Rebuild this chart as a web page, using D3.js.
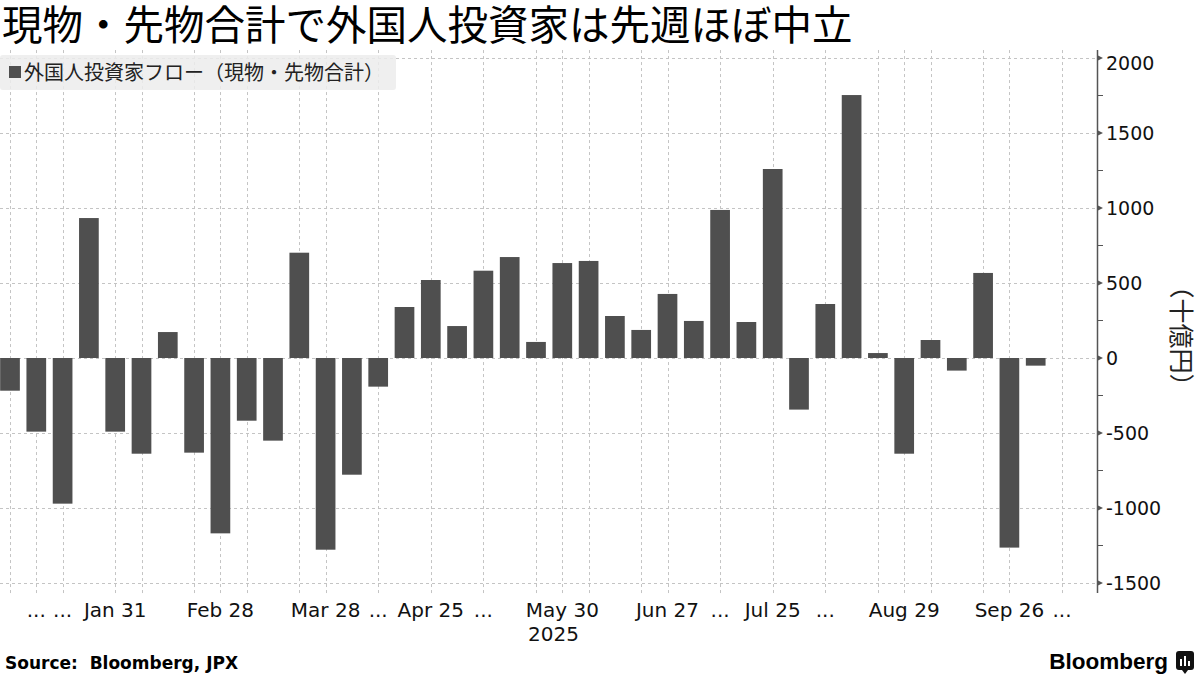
<!DOCTYPE html>
<html><head><meta charset="utf-8">
<script src="https://cdn.jsdelivr.net/npm/d3@7"></script>
<style>body{margin:0;background:#fff} svg{display:block}</style>
</head><body><svg id="c" width="1200" height="675"></svg>
<script>
const title = "現物・先物合計で外国人投資家は先週ほぼ中立";
const legendLabel = "外国人投資家フロー（現物・先物合計）";
const yAxisTitle = "（十億円）";
const sourceText = "Source:  Bloomberg, JPX";
const brandText = "Bloomberg";

const weeks = [
  "2025-01-03","2025-01-10","2025-01-17","2025-01-24","2025-01-31",
  "2025-02-07","2025-02-14","2025-02-21","2025-02-28","2025-03-07",
  "2025-03-14","2025-03-21","2025-03-28","2025-04-04","2025-04-11",
  "2025-04-18","2025-04-25","2025-05-02","2025-05-09","2025-05-16",
  "2025-05-23","2025-05-30","2025-06-06","2025-06-13","2025-06-20",
  "2025-06-27","2025-07-04","2025-07-11","2025-07-18","2025-07-25",
  "2025-08-01","2025-08-08","2025-08-15","2025-08-22","2025-08-29",
  "2025-09-05","2025-09-12","2025-09-19","2025-09-26","2025-10-03"
];
const flows = [
  -218, -491, -971, 933, -491,
  -638, 173, -631, -1169, -418,
  -551, 702, -1278, -778, -191,
  340, 520, 213, 582, 673,
  107, 633, 647, 280, 187,
  427, 247, 987, 240, 1260,
  -344, 360, 1753, 33, -638,
  120, -84, 567, -1264, -51
];

const tickDates = [
  "2025-01-03","2025-01-10","2025-01-17","2025-01-31","2025-02-07",
  "2025-02-21","2025-02-28","2025-03-07","2025-03-21","2025-03-28",
  "2025-04-11","2025-04-25","2025-05-09","2025-05-23","2025-05-30",
  "2025-06-06","2025-06-20","2025-06-27","2025-07-11","2025-07-25",
  "2025-08-08","2025-08-22","2025-08-29","2025-09-05","2025-09-19",
  "2025-09-26","2025-10-10"
];
const tickLabels = [
  "","...","...","Jan 31","",
  "","Feb 28","","","Mar 28",
  "...","Apr 25","...","","May 30",
  "","","Jun 27","...","Jul 25",
  "...","","Aug 29","","",
  "Sep 26","..."
];
const yearLabel = "2025";
const yTicks = [-1500, -1000, -500, 0, 500, 1000, 1500, 2000];
const yMinorTicks = [-1250, -750, -250, 250, 750, 1250, 1750];

const parse = d3.utcParse("%Y-%m-%d");
const svg = d3.select("#c");
svg.append("rect").attr("width",1200).attr("height",675).attr("fill","#fff");

const x = d3.scaleUtc().domain([parse("2025-01-03"), parse("2025-10-10")]).range([10, 1062]);
const y = d3.scaleLinear().domain([-1500, 2000]).range([583, 58]);
const axisX = 1097;
const yTop = y(2053), yBot = y(-1567);
const barW = 19.7;

// title
svg.append("text").attr("x", 2).attr("y", 39.5)
  .attr("font-family", "'DejaVu Sans', 'Noto Sans CJK JP'").attr("font-size", 40.5).attr("fill", "#000")
  .text(title);

// grid
const grid = svg.append("g").attr("stroke", "#c4c4c4").attr("stroke-width", 1).attr("stroke-dasharray", "3,3");
grid.selectAll("line.h").data(yTicks).join("line").attr("class","h")
  .attr("x1", 0).attr("x2", axisX).attr("y1", d => Math.round(y(d)) + 0.5).attr("y2", d => Math.round(y(d)) + 0.5);
grid.selectAll("line.v").data(tickDates).join("line").attr("class","v")
  .attr("y1", yTop).attr("y2", yBot)
  .attr("x1", d => Math.round(x(parse(d))) + 0.5).attr("x2", d => Math.round(x(parse(d))) + 0.5);

// legend
const lg = svg.append("g");
lg.append("rect").attr("x", 0).attr("y", 55).attr("width", 396).attr("height", 35).attr("rx", 3)
  .attr("fill", "#ececec").attr("opacity", 0.85);
lg.append("rect").attr("x", 9).attr("y", 66).attr("width", 12).attr("height", 12).attr("fill", "#4f4f4f");
lg.append("text").attr("x", 24).attr("y", 79.5)
  .attr("font-family", "'Noto Sans CJK JP'").attr("font-size", 20).attr("fill", "#222")
  .text(legendLabel);

// bars
svg.append("g").selectAll("rect").data(weeks).join("rect")
  .attr("x", d => x(parse(d)) - barW / 2)
  .attr("width", barW)
  .attr("y", (d, i) => y(Math.max(0, flows[i])))
  .attr("height", (d, i) => Math.abs(y(flows[i]) - y(0)))
  .attr("fill", "#4f4f4f");

// y axis
const ya = svg.append("g").attr("transform", `translate(${axisX},0)`);
ya.call(d3.axisRight(y).tickValues(yTicks).tickSize(0).tickPadding(9).tickFormat(d => String(d)));
ya.select(".domain").remove();
ya.selectAll("text").attr("font-family", "'DejaVu Sans'").attr("font-size", 19).attr("fill", "#111");
ya.selectAll(".tick").filter(d => d === 2000).select("text").attr("dy", "0.62em");
ya.append("line").attr("x1", 0.5).attr("x2", 0.5).attr("y1", yTop).attr("y2", yBot)
  .attr("stroke", "#555").attr("stroke-width", 1.5);
ya.selectAll("path.maj").data(yTicks).join("path").attr("class","maj")
  .attr("d", d => `M0,${y(d) - 3}L6,${y(d)}L0,${y(d) + 3}Z`).attr("fill", "#555");
ya.selectAll("line.min").data(yMinorTicks).join("line").attr("class","min")
  .attr("x1", 0).attr("x2", 6).attr("y1", d => y(d)).attr("y2", d => y(d))
  .attr("stroke", "#555").attr("stroke-width", 1);

// y axis title
svg.append("text").attr("transform", "translate(1183,336) rotate(90)")
  .attr("text-anchor", "middle").attr("dominant-baseline", "central")
  .attr("font-family", "'Noto Sans CJK JP'").attr("font-size", 25).attr("fill", "#222")
  .text(yAxisTitle);

// x labels
const xl = svg.append("g").attr("font-family", "'DejaVu Sans'").attr("font-size", 20).attr("fill", "#111")
  .attr("text-anchor", "middle");
xl.selectAll("text.t").data(tickDates).join("text").attr("class","t")
  .attr("x", d => x(parse(d))).attr("y", 617)
  .text((d, i) => tickLabels[i]);
xl.append("text").attr("x", (0 + axisX) / 2 + 5).attr("y", 641).text(yearLabel);

// footer
svg.append("text").attr("x", 5).attr("y", 669)
  .attr("font-family", "'DejaVu Sans'").attr("font-weight", "bold").attr("font-size", 17).attr("fill", "#000")
  .attr("xml:space", "preserve").style("white-space", "pre")
  .text(sourceText);
svg.append("text").attr("x", 1168).attr("y", 669).attr("text-anchor", "end")
  .attr("font-family", "'Liberation Sans'").attr("font-weight", "bold").attr("font-size", 22.5).attr("fill", "#000")
  .text(brandText);
const logo = svg.append("g").attr("transform", "translate(1176,651)");
logo.append("rect").attr("width", 18).attr("height", 19).attr("rx", 3).attr("fill", "#111");
logo.append("path").attr("d", "M6,19L9,23L12,19Z").attr("fill", "#111");
[[4,8],[8,5],[12,10]].forEach(([bx, by]) => {
  logo.append("rect").attr("x", bx).attr("y", by).attr("width", 2).attr("height", 15 - by).attr("fill", "#fff");
});
</script></body></html>
